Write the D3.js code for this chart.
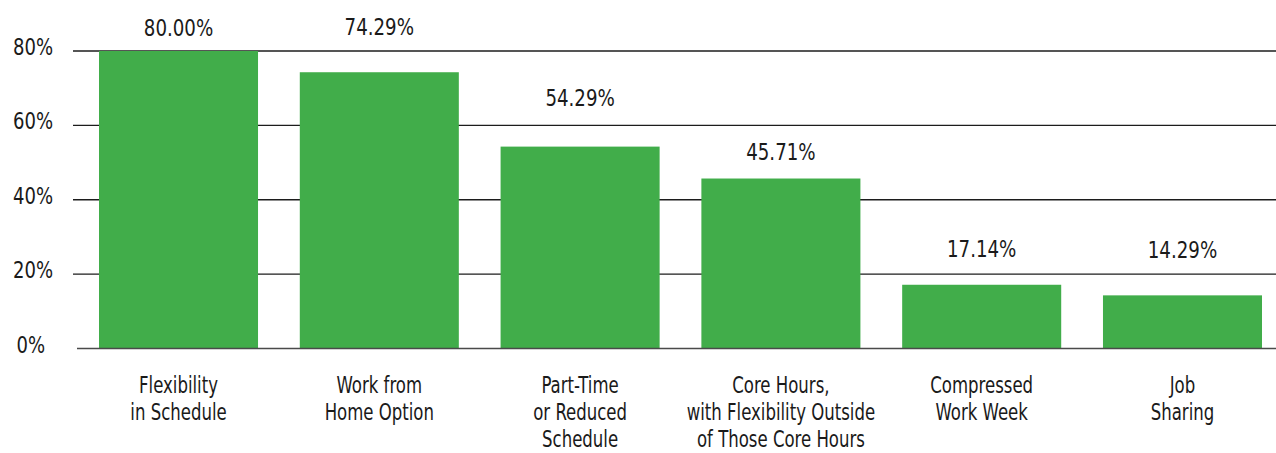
<!DOCTYPE html>
<html>
<head>
<meta charset="utf-8">
<script src="https://cdn.jsdelivr.net/npm/d3@7"></script>
<style>
  html, body { margin: 0; padding: 0; background: #fff; }
  svg { display: block; }
  text { font-family: "DejaVu Sans Condensed", "DejaVu Sans", sans-serif; font-stretch: condensed; fill: #1a1a1a; }
</style>
</head>
<body>
<svg id="chart" width="1276" height="453"></svg>
<script>
// Share of respondents offering each flexible-work arrangement
const categories = [
  "Flexibility\nin Schedule",
  "Work from\nHome Option",
  "Part-Time\nor Reduced\nSchedule",
  "Core Hours,\nwith Flexibility Outside\nof Those Core Hours",
  "Compressed\nWork Week",
  "Job\nSharing"
];
const values = [80.00, 74.29, 54.29, 45.71, 17.14, 14.29];
const tickValues = [0, 20, 40, 60, 80];
const tickLabels = ["0%", "20%", "40%", "60%", "80%"];

// Vertical space left between each bar top and its value label baseline
const labelLift = [15, 37, 41, 19, 28, 37];

const W = 1276, H = 453;
const FONT = 23;
// Horizontal squeeze to give the labels a narrow gothic look
const SQ_VALUE = 0.88, SQ_CAT = 0.8, SQ_TICK = 0.87;

const svg = d3.select("#chart");

const x = d3.scaleBand()
  .domain(categories)
  .range([99, 1262])
  .paddingInner(0.208)
  .paddingOuter(0);

const y = d3.scaleLinear()
  .domain([0, 80])
  .range([348.5, 51]);

// Gridlines (drawn first so the bars sit on top)
svg.append("g").selectAll("line")
  .data(tickValues.filter(v => v !== 0))
  .join("line")
  .attr("x1", 73).attr("x2", W)
  .attr("y1", d => y(d)).attr("y2", d => y(d))
  .attr("stroke", "#1c1c1c")
  .attr("stroke-width", 1.3);

// Y tick labels
svg.append("g").selectAll("text")
  .data(tickValues)
  .join("text")
  .attr("transform", d => `translate(${d === 0 ? 45 : 53},${y(d) + 4}) scale(${SQ_TICK},1)`)
  .attr("text-anchor", "end")
  .attr("font-size", FONT)
  .text((d, i) => tickLabels[i]);

// Bars
svg.append("g").selectAll("rect")
  .data(values)
  .join("rect")
  .attr("x", (d, i) => x(categories[i]))
  .attr("width", x.bandwidth())
  .attr("y", d => y(d))
  .attr("height", d => y(0) - y(d))
  .attr("fill", "#41ad4a");

// Baseline
svg.append("line")
  .attr("x1", 77).attr("x2", W)
  .attr("y1", y(0)).attr("y2", y(0))
  .attr("stroke", "#4a4a4a")
  .attr("stroke-width", 1.5);

// Value labels
svg.append("g").selectAll("text")
  .data(values)
  .join("text")
  .attr("transform", (d, i) =>
    `translate(${x(categories[i]) + x.bandwidth() / 2},${y(d) - labelLift[i]}) scale(${SQ_VALUE},1)`)
  .attr("text-anchor", "middle")
  .attr("font-size", FONT)
  .text(d => d3.format(".2f")(d) + "%");

// Category labels
svg.append("g").selectAll("text")
  .data(categories)
  .join("text")
  .attr("transform", d => `translate(${x(d) + x.bandwidth() / 2},392.5) scale(${SQ_CAT},1)`)
  .attr("text-anchor", "middle")
  .attr("font-size", FONT)
  .each(function(d) {
    const t = d3.select(this);
    d.split("\n").forEach((line, i) => {
      t.append("tspan")
        .attr("x", 0)
        .attr("dy", i === 0 ? 0 : 27.5)
        .text(line);
    });
  });
</script>
</body>
</html>
